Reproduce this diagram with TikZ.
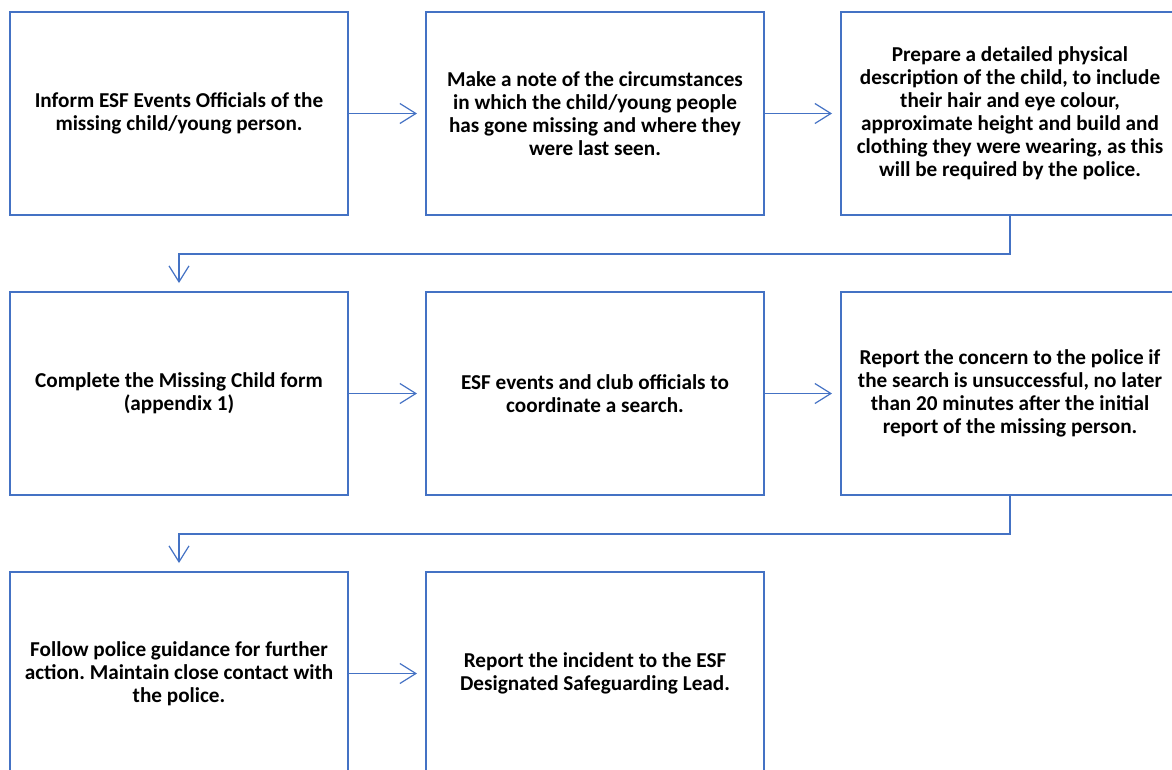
\documentclass[tikz,border=0pt]{standalone}
\usepackage{fontspec}
\setmainfont{Carlito}
\frenchspacing
\usetikzlibrary{arrows.meta}

\definecolor{boxblue}{HTML}{4472C4}

\tikzset{
  stepbox/.style={draw=boxblue, line width=2pt, minimum width=338pt, minimum height=203pt,
    align=center, font=\fontsize{21.2}{23}\selectfont\bfseries, inner sep=0pt},
  flow/.style={draw=boxblue, line width=1.2pt, -{Straight Barb[length=16pt,width=20pt]}, shorten >=8pt}
}

\begin{document}
\begin{tikzpicture}[x=1pt, y=-1pt]
  \useasboundingbox (0,0) rectangle (1172,769);

  % first row
  \node[stepbox] (inform) at (179,113.5) {Inform ESF Events Officials of the\\missing child/young person.};
  \node[stepbox] (note) at (595,113.5) {Make a note of the circumstances\\in which the child/young people\\has gone missing and where they\\were last seen.};
  \node[stepbox] (describe) at (1010,113.5) {Prepare a detailed physical\\description of the child, to include\\their hair and eye colour,\\approximate height and build and\\clothing they were wearing, as this\\will be required by the police.};

  % second row
  \node[stepbox] (form) at (179,393.5) {Complete the Missing Child form\\(appendix 1)};
  \node[stepbox] (search) at (595,393.5) {ESF events and club officials to\\coordinate a search.};
  \node[stepbox] (police) at (1010,393.5) {Report the concern to the police if\\the search is unsuccessful, no later\\than 20 minutes after the initial\\report of the missing person.};

  % third row
  \node[stepbox] (guidance) at (179,673.5) {Follow police guidance for further\\action. Maintain close contact with\\the police.};
  \node[stepbox] (lead) at (595,673.5) {Report the incident to the ESF\\Designated Safeguarding Lead.};

  \draw[flow] (inform) -- (note);
  \draw[flow] (note) -- (describe);
  \draw[flow] (describe.south) -- ++(0,38) -| (form.north);
  \draw[flow] (form) -- (search);
  \draw[flow] (search) -- (police);
  \draw[flow] (police.south) -- ++(0,38) -| (guidance.north);
  \draw[flow] (guidance) -- (lead);
\end{tikzpicture}
\end{document}
